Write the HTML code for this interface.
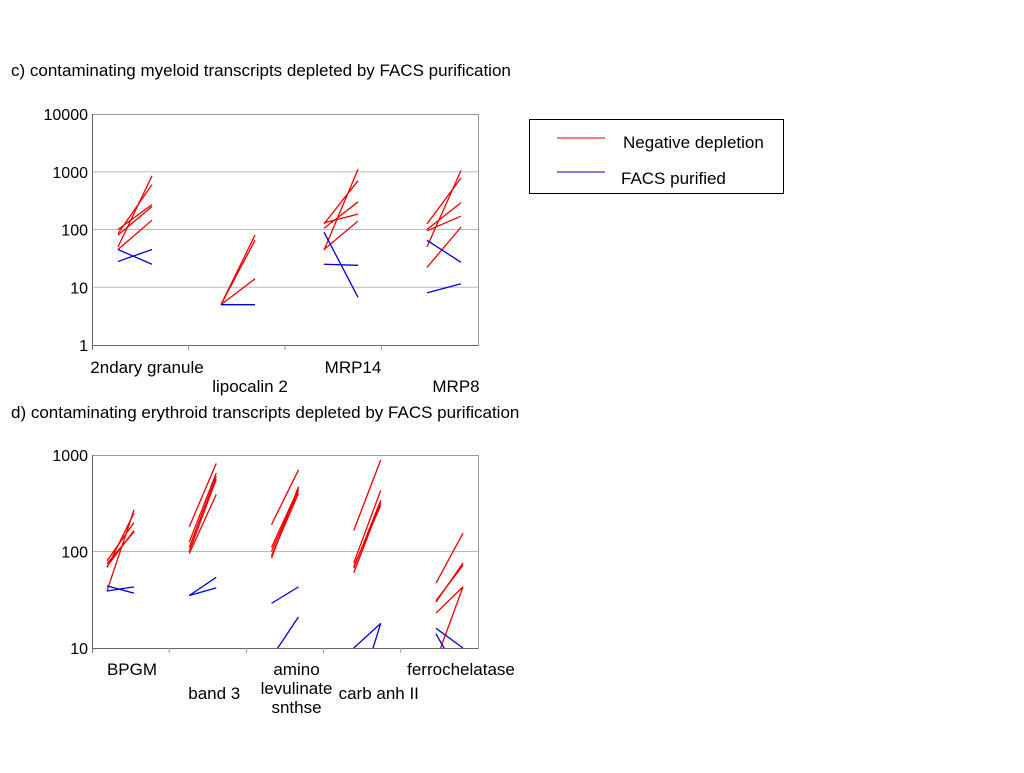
<!DOCTYPE html>
<html><head><meta charset="utf-8"><style>
body{margin:0;background:#fff;font-family:"Liberation Sans",sans-serif}
svg text{font-family:"Liberation Sans",sans-serif;fill:#000}
</style></head><body>
<svg id="s" width="1024" height="768" xmlns="http://www.w3.org/2000/svg">
<defs>
<clipPath id="cc"><rect x="92" y="114" width="386" height="231"/></clipPath>
<clipPath id="cd"><rect x="92" y="455" width="386" height="193"/></clipPath>
</defs>
<text x="11" y="76" font-size="17">c) contaminating myeloid transcripts depleted by FACS purification</text>
<text x="11" y="418" font-size="17">d) contaminating erythroid transcripts depleted by FACS purification</text>
<g id="gc"></g>
<g id="gd"></g>
<g>
<rect x="529.5" y="119.5" width="254" height="74" fill="#fff" stroke="#000"/>
<line x1="557" y1="138" x2="605" y2="138" stroke="#e00"/>
<text x="623" y="148" font-size="17">Negative depletion</text>
<line x1="557" y1="172" x2="605" y2="172" stroke="#00d"/>
<text x="621" y="184" font-size="17">FACS purified</text>
</g>
</svg>
<script>
const cCategories=["2ndary granule","lipocalin 2","MRP14","MRP8"];
const cLabelRow=[0,1,0,1];
const cNeg=[
 [[50,850],[85,600],[100,270],[80,250],[45,145]],
 [[5,80],[5,65],[5,14]],
 [[44,1100],[125,700],[105,300],[130,185],[45,140]],
 [[50,1050],[125,780],[100,290],[95,170],[22,110]]
];
const cFacs=[
 [[45,25],[28,45]],
 [[5,5],[5,5]],
 [[90,6.7],[25,24]],
 [[65,27],[8,11.5]]
];
const cTicks=[1,10,100,1000,10000];
const cTickLabels=["1","10","100","1000","10000"];

const dCategories=[["BPGM"],["band 3"],["amino","levulinate","snthse"],["carb anh II"],["ferrochelatase"]];
const dLabelRow=[0,1,0,1,0];
const dNeg=[
 [[39,270],[80,200],[70,165],[75,160],[68,250]],
 [[180,820],[125,650],[110,600],[95,390],[100,560]],
 [[190,700],[110,450],[100,430],[90,400],[85,470]],
 [[165,890],[76,430],[67,340],[60,320],[70,300]],
 [[47,155],[30,76],[31,72],[23,43],[7.4,43]]
];
const dFacs=[
 [[44,37],[39,43]],
 [[35,54],[35,42]],
 [[29,43],[8,21]],
 [[10,18],[2.3,18]],
 [[16,10],[14,4.5]]
];
const dTicks=[10,100,1000];
const dTickLabels=["10","100","1000"];

const NS="http://www.w3.org/2000/svg";
function mk(parent,tag,attrs){const e=document.createElementNS(NS,tag);for(const k in attrs)e.setAttribute(k,attrs[k]);parent.appendChild(e);return e;}

function draw(g,cfg){
 const {x0,x1,yTop,yBot,vMin,vMax,ticks,tickLabels,cats,neg,facs,clip,step,start,len,labelRow,labelY,labelOff,catCount}=cfg;
 const ys=v=>yBot-(Math.log10(v)-Math.log10(vMin))/(Math.log10(vMax)-Math.log10(vMin))*(yBot-yTop);
 const xs=i=>start+i*step;
 let r=mk(g,'rect',{x:x0+.5,y:yTop+.5,width:x1-x0,height:yBot-yTop,fill:'#fff',stroke:'#999'});
 
 
 ticks.forEach((t,i)=>{
  const y=ys(t);
  if(i>0&&i<ticks.length-1){const gl=mk(g,'line',{x1:x0,x2:x1,y1:y,y2:y,stroke:'#bbb'});
   
   }
  const tl=mk(g,'text',{x:x0-4,y:y+6,'font-size':16,'text-anchor':'end'});
  tl.textContent=tickLabels[i];
  
  
 });
 const ax=mk(g,'line',{x1:x0+.5,x2:x0+.5,y1:yTop,y2:yBot+5,stroke:'#666'});
 
 
 const bx=mk(g,'line',{x1:x0,x2:x1,y1:yBot+.5,y2:yBot+.5,stroke:'#666'});
 
 
 for(let i=1;i<catCount;i++){const xx=x0+(x1-x0)*i/catCount;
  const tk=mk(g,'line',{x1:xx,x2:xx,y1:yBot,y2:yBot+5,stroke:'#999'});
  
  }
 const cg=mk(g,'g',{'clip-path':'url(#'+clip+')'});
 neg.forEach((set,i)=>set.forEach(p=>{
  const l=mk(cg,'line',{x1:xs(i),x2:xs(i)+len,y1:ys(p[0]),y2:ys(p[1]),stroke:'#e00','stroke-width':1.3});
  
  
 }));
 facs.forEach((set,i)=>set.forEach(p=>{
  const l=mk(cg,'line',{x1:xs(i),x2:xs(i)+len,y1:ys(p[0]),y2:ys(p[1]),stroke:'#00d','stroke-width':1.3});
  
  
 }));
 cats.forEach((c,i)=>{
  const lines=Array.isArray(c)?c:[c];
  const t=mk(g,'text',{x:xs(i)+labelOff,y:labelY[labelRow[i]],'font-size':17,'text-anchor':'middle'});
  
  
  lines.forEach((s,j)=>{const ts=mk(t,'tspan',{x:xs(i)+labelOff,dy:j?19:0});ts.textContent=s;});
 });
}
draw(document.getElementById('gc'),{x0:92,x1:478,yTop:114,yBot:345,vMin:1,vMax:10000,ticks:cTicks,tickLabels:cTickLabels,cats:cCategories,neg:cNeg,facs:cFacs,clip:'cc',step:103,start:118,len:34,labelRow:cLabelRow,labelY:[373,392],labelOff:29,catCount:4});
draw(document.getElementById('gd'),{x0:92,x1:478,yTop:455,yBot:648,vMin:10,vMax:1000,ticks:dTicks,tickLabels:dTickLabels,cats:dCategories,neg:dNeg,facs:dFacs,clip:'cd',step:82.25,start:107,len:27,labelRow:dLabelRow,labelY:[675,699],labelOff:25,catCount:5});
</script>
</body></html>
